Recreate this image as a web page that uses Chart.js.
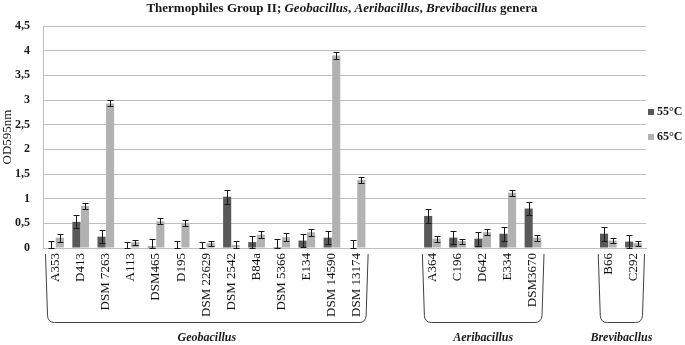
<!DOCTYPE html>
<html>
<head>
<meta charset="utf-8">
<script src="https://cdn.jsdelivr.net/npm/chart.js@4.4.1/dist/chart.umd.min.js"></script>
<style>
  html, body { margin: 0; padding: 0; background: #fff; }
  #wrap { width: 685px; height: 345px; }
</style>
</head>
<body>
<div id="wrap"><canvas id="odChart" width="685" height="345"></canvas></div>
<script>
/* data */
const strainLabels = [
  "A353", "D413", "DSM 7263", "A113", "DSM465", "D195", "DSM 22629",
  "DSM 2542", "B84a", "DSM 5366", "E134", "DSM 14590", "DSM 13174",
  "", "",
  "A364", "C196", "D642", "E334", "DSM3670",
  "", "",
  "B66", "C292"
];

const od55 = [0.01, 0.53, 0.23, 0.01, 0.03, 0.01, 0.01, 1.04, 0.12, 0.02, 0.15, 0.21, 0.01,
  null, null, 0.65, 0.21, 0.19, 0.29, 0.80, null, null, 0.29, 0.13];
const err55 = [0.13, 0.13, 0.13, 0.12, 0.15, 0.13, 0.11, 0.14, 0.13, 0.16, 0.13, 0.13, 0.15,
  null, null, 0.14, 0.13, 0.14, 0.14, 0.13, null, null, 0.14, 0.14];

const od65 = [0.21, 0.85, 2.93, 0.12, 0.54, 0.51, 0.1, 0.06, 0.27, 0.22, 0.32, 3.9, 1.38,
  null, null, 0.19, 0.14, 0.32, 1.12, 0.21, null, null, 0.15, 0.1];
const err65 = [0.08, 0.06, 0.06, 0.05, 0.06, 0.06, 0.05, 0.09, 0.07, 0.08, 0.07, 0.07, 0.06,
  null, null, 0.06, 0.05, 0.06, 0.06, 0.06, null, null, 0.05, 0.05];

const groupNames = ["Geobacillus", "Aeribacillus", "Brevibacllus"];
const groupFirst = [0, 15, 22];
const groupLast = [12, 19, 23];

const seriesNames = ["55°C", "65°C"];
const seriesColors = ["#595959", "#b2b2b2"];

const serif = "'Liberation Serif', 'Times New Roman', serif";

/* error bars */
const errorBarPlugin = {
  id: "errorBars",
  afterDatasetsDraw(chart) {
    const ctx = chart.ctx;
    const yScale = chart.scales.y;
    const errs = [err55, err65];
    ctx.save();
    ctx.strokeStyle = "#1a1a1a";
    ctx.lineWidth = 1;
    chart.data.datasets.forEach((ds, di) => {
      const meta = chart.getDatasetMeta(di);
      meta.data.forEach((bar, i) => {
        const v = ds.data[i];
        const e = errs[di][i];
        if (v === null || e === null) return;
        const x = Math.round(bar.x) + 0.5;
        const top = Math.round(yScale.getPixelForValue(v + e)) + 0.5;
        const bot = Math.round(yScale.getPixelForValue(Math.max(0, v - e))) + 0.5;
        ctx.beginPath();
        ctx.moveTo(x, top);
        ctx.lineTo(x, bot);
        ctx.moveTo(x - 3, top);
        ctx.lineTo(x + 3, top);
        ctx.moveTo(x - 3, bot);
        ctx.lineTo(x + 3, bot);
        ctx.stroke();
      });
    });
    ctx.restore();
  }
};

/* title, legend, group brackets */
const decorPlugin = {
  id: "decor",
  afterDraw(chart) {
    const ctx = chart.ctx;
    const xScale = chart.scales.x;
    const half = (xScale.getPixelForValue(1) - xScale.getPixelForValue(0)) / 2;
    ctx.save();

    // title with italic genus names
    const parts = [
      ["Thermophiles Group II; ", false],
      ["Geobacillus", true],
      [", ", false],
      ["Aeribacillus", true],
      [", ", false],
      ["Brevibacillus", true],
      [" genera", false]
    ];
    let total = 0;
    parts.forEach(p => {
      ctx.font = (p[1] ? "italic " : "") + "bold 13px " + serif;
      total += ctx.measureText(p[0]).width;
    });
    let tx = 342 - total / 2;
    ctx.fillStyle = "#1a1a1a";
    ctx.textBaseline = "middle";
    ctx.textAlign = "left";
    parts.forEach(p => {
      ctx.font = (p[1] ? "italic " : "") + "bold 13px " + serif;
      ctx.fillText(p[0], tx, 9);
      tx += ctx.measureText(p[0]).width;
    });

    // legend
    ctx.font = "bold 12px " + serif;
    seriesNames.forEach((name, i) => {
      const ly = 112 + i * 25;
      ctx.fillStyle = seriesColors[i];
      ctx.fillRect(648, ly - 3, 6, 6);
      ctx.fillStyle = "#1a1a1a";
      ctx.fillText(name, 657, ly);
    });

    // brackets
    ctx.strokeStyle = "#404040";
    ctx.lineWidth = 1;
    const topY = 254;
    const botY = 322.5;
    const r = 7;
    groupNames.forEach((name, g) => {
      const left = xScale.getPixelForValue(groupFirst[g]) - half + 2.5;
      const right = xScale.getPixelForValue(groupLast[g]) + half - 1.5;
      ctx.beginPath();
      ctx.moveTo(left, topY);
      ctx.lineTo(left + 2, botY - r);
      ctx.quadraticCurveTo(left + 2.5, botY, left + 2 + r, botY);
      ctx.lineTo(right - 2 - r, botY);
      ctx.quadraticCurveTo(right - 2.5, botY, right - 2, botY - r);
      ctx.lineTo(right, topY);
      ctx.stroke();

      ctx.fillStyle = "#1a1a1a";
      ctx.font = "italic bold 12px " + serif;
      ctx.textAlign = "center";
      ctx.fillText(name, (left + right) / 2, 338);
    });

    ctx.restore();
  }
};

/* chart */
const odChart = new Chart(document.querySelector("#odChart"), {
  type: "bar",
  data: {
    labels: strainLabels,
    datasets: [
      {
        label: seriesNames[0],
        data: od55,
        backgroundColor: seriesColors[0],
        categoryPercentage: 0.68,
        barPercentage: 0.95
      },
      {
        label: seriesNames[1],
        data: od65,
        backgroundColor: seriesColors[1],
        categoryPercentage: 0.68,
        barPercentage: 0.95
      }
    ]
  },
  options: {
    responsive: false,
    animation: false,
    layout: {
      padding: { top: 26, right: 39, left: 0, bottom: 0 }
    },
    plugins: {
      legend: { display: false },
      tooltip: { enabled: false }
    },
    scales: {
      x: {
        grid: { display: false, drawTicks: false },
        border: { color: "#bfbfbf" },
        ticks: {
          autoSkip: false,
          minRotation: 90,
          maxRotation: 90,
          padding: 5,
          color: "#111",
          font: { family: serif, size: 13 }
        },
        afterFit(scale) {
          scale.height = 97;
        }
      },
      y: {
        min: 0,
        max: 4.5,
        grid: { color: "#bfbfbf", drawTicks: false },
        border: { color: "#bfbfbf" },
        ticks: {
          stepSize: 0.5,
          padding: 13,
          color: "#1a1a1a",
          font: { family: serif, size: 12, weight: "bold" },
          callback: v => String(v).replace(".", ",")
        },
        title: {
          display: true,
          text: "OD595nm",
          color: "#1a1a1a",
          padding: 0,
          font: { family: serif, size: 13 }
        },
        afterFit(scale) {
          scale.width = 43;
        }
      }
    }
  },
  plugins: [errorBarPlugin, decorPlugin]
});
</script>
</body>
</html>
